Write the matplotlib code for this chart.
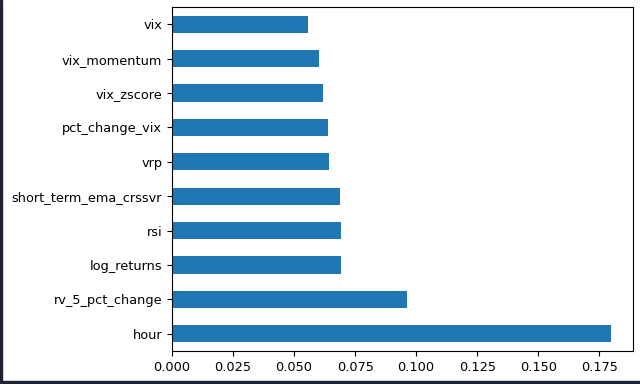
import matplotlib
matplotlib.use("Agg")
import matplotlib.pyplot as plt
from matplotlib.patches import Rectangle

features = ["hour", "rv_5_pct_change", "log_returns", "rsi", "short_term_ema_crssvr",
            "vrp", "pct_change_vix", "vix_zscore", "vix_momentum", "vix"]
importances = [0.1798, 0.0964, 0.0691, 0.0691, 0.0687, 0.0642, 0.0638, 0.0619, 0.0602, 0.0555]

plt.rcParams["font.size"] = 9.3
fig = plt.figure(figsize=(6.4, 3.84), dpi=100)
ax = fig.add_axes([172/640, 1-351/384, (633-172)/640, (351-7)/384])
pos = list(range(len(features)))
ax.barh(pos, importances, height=0.5, color="#1f77b4")
ax.set_yticks(pos)
ax.set_yticklabels(features)
ax.set_ylim(-0.5, len(features)-0.5)
ax.set_xlim(0, max(importances)*1.05)
ax.set_xticks([0, 0.025, 0.05, 0.075, 0.1, 0.125, 0.15, 0.175])
ax.set_xticklabels(["0.000", "0.025", "0.050", "0.075", "0.100", "0.125", "0.150", "0.175"])

# screenshot frame edges
fig.patches.append(Rectangle((0, 0), 2/640, 1, transform=fig.transFigure, color="#1e2233", zorder=10))
fig.patches.append(Rectangle((0, 0), 1, 3/384, transform=fig.transFigure, color="#1e2233", zorder=10))

fig.savefig("out.png", dpi=100)
